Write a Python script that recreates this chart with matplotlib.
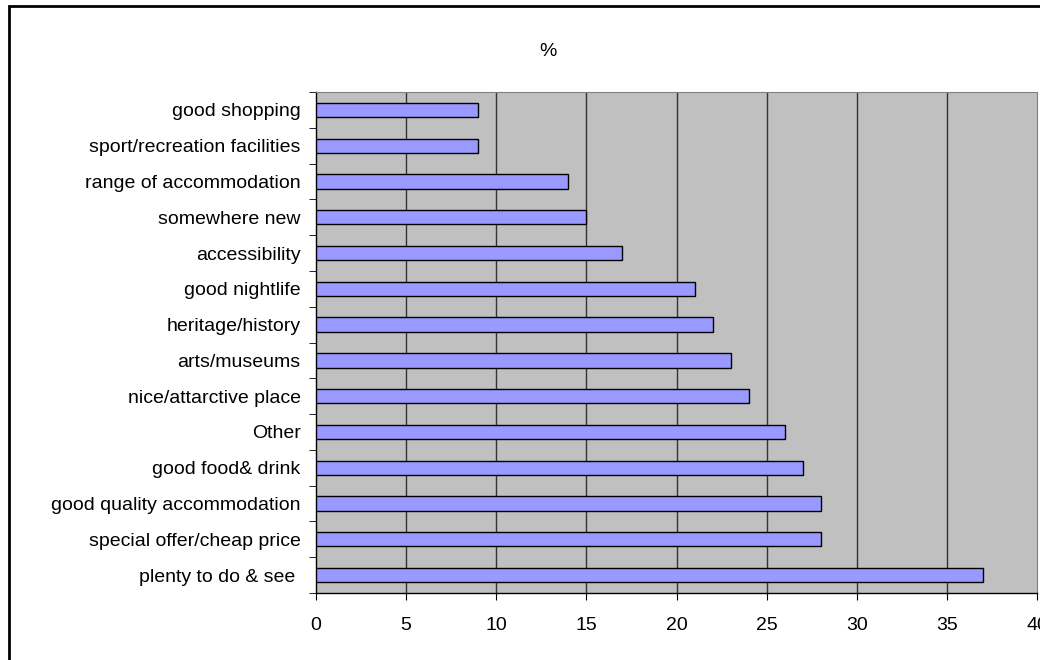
import numpy as np
import matplotlib.pyplot as plt
from matplotlib.patches import Rectangle

# categories listed bottom to top
reasons = ['plenty to do & see ', 'special offer/cheap price', 'good quality accommodation',
           'good food& drink', 'Other', 'nice/attarctive place', 'arts/museums',
           'heritage/history', 'good nightlife', 'accessibility', 'somewhere new',
           'range of accommodation', 'sport/recreation facilities', 'good shopping']
percent = [37, 28, 28, 27, 26, 24, 23, 22, 21, 17, 15, 14, 9, 9]
x_ticks = [0, 5, 10, 15, 20, 25, 30, 35, 40]

plt.rcParams['font.family'] = ['Liberation Sans', 'DejaVu Sans']

fig = plt.figure(figsize=(10.4, 6.6), dpi=100)
ax = fig.add_axes([316 / 1040, 1 - 593 / 660, (1037 - 316) / 1040, (593 - 92) / 660])

y = np.arange(len(reasons))
ax.barh(y, percent, height=0.4, color='#9999FF', edgecolor='black', linewidth=1, zorder=3)

ax.set_facecolor('#C0C0C0')
ax.set_xlim(0, 40)
ax.set_ylim(-0.5, len(reasons) - 0.5)
ax.set_xticks(x_ticks)
ax.set_xticklabels([str(t) for t in x_ticks], fontsize=14)
ax.set_yticks(y)
ax.set_yticklabels(reasons, fontsize=14)
ax.set_yticks(np.arange(-0.5, len(reasons), 1), minor=True)
ax.tick_params(axis='y', which='major', length=0, pad=11)
ax.tick_params(axis='y', which='minor', length=5, direction='out', color='black')
ax.tick_params(axis='x', length=5, direction='out', pad=12, color='black')

for v in x_ticks[1:-1]:
    ax.axvline(v, color='#333333', linewidth=1, zorder=1)

for side in ['top', 'right']:
    ax.spines[side].set_color('#808080')
for side in ['left', 'bottom']:
    ax.spines[side].set_color('black')
    ax.spines[side].set_linewidth(1)

fig.text(548 / 1040, 1 - 52 / 660, '%', ha='center', va='center', fontsize=14)

fig.patches.append(Rectangle((9 / 1040, -0.1), 1.2, 1 - 6 / 660 + 0.1,
                             transform=fig.transFigure, fill=False,
                             edgecolor='black', linewidth=2))

fig.savefig('out.png', dpi=100)
